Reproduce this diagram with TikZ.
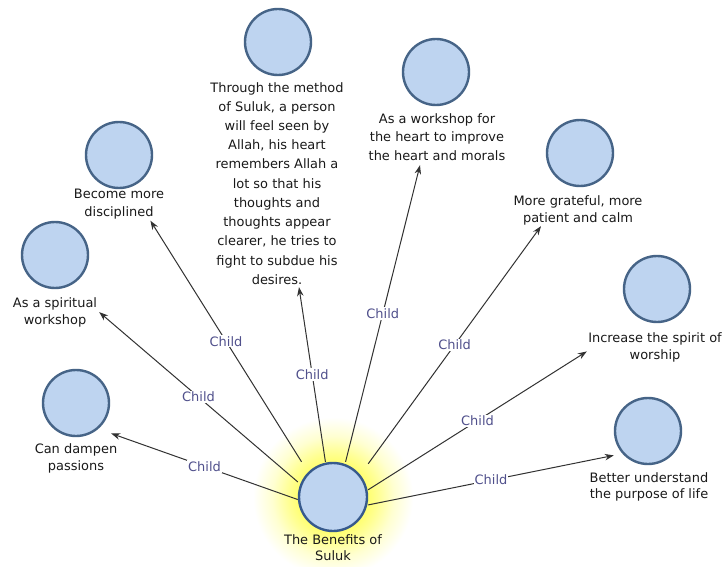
\documentclass[tikz,border=0pt]{standalone}
\usepackage{fontspec}
\setmainfont{DejaVu Sans}
\usetikzlibrary{arrows.meta}
\definecolor{circfill}{RGB}{190,212,240}
\definecolor{circdraw}{RGB}{70,100,135}
\definecolor{edgecol}{RGB}{50,50,50}
\definecolor{labcol}{RGB}{80,80,140}
\pgfdeclareradialshading{glowshade}{\pgfpoint{0bp}{0bp}}{color(0bp)=(yellow!55!white); color(11bp)=(yellow!55!white); color(14bp)=(yellow!42!white); color(19bp)=(yellow!18!white); color(25bp)=(white); color(50bp)=(white)}
\begin{document}
\begin{tikzpicture}[x=1bp,y=-1bp,
  bubble/.style={circle, fill=circfill, draw=circdraw, line width=2.4bp, minimum size=66bp, inner sep=0},
  caption/.style={anchor=north, align=center, inner sep=0, font=\fontsize{13}{18.5}\selectfont, text=black!90},
  hitbox/.style={rectangle, inner sep=0, draw=none},
  link/.style={draw=edgecol, line width=1bp, -{Stealth[length=9bp,width=6.5bp]}},
  childlab/.style={fill=white, inner sep=1bp, text=labcol, font=\fontsize{13}{15}\selectfont}
]
\useasboundingbox (0,0) rectangle (724,567);
\fill[white] (0,0) rectangle (724,567);
\shade[shading=glowshade] (333,497) circle[radius=80bp];

% hit boxes (invisible extents of each node: bubble plus caption)
\node[hitbox, minimum width=70bp, minimum height=100bp] (h0) at (333,512) {};
\node[hitbox, minimum width=70bp, minimum height=104bp] (h1) at (76,421) {};
\node[hitbox, minimum width=88bp, minimum height=106bp] (h2) at (55,274.5) {};
\node[hitbox, minimum width=80bp, minimum height=100bp] (h3) at (119,170.5) {};
\node[hitbox, minimum width=140bp, minimum height=278bp] (h4) at (278,148) {};
\node[hitbox, minimum width=140bp, minimum height=128bp] (h5) at (436,101) {};
\node[hitbox, minimum width=130bp, minimum height=107bp] (h6) at (580,172.5) {};
\node[hitbox, minimum width=136bp, minimum height=108bp] (h7) at (655,308.5) {};
\node[hitbox, minimum width=68bp, minimum height=104bp] (h8) at (648,448.5) {};

% connectors
\draw[link] (h0) -- node[childlab] (e1) {Child} (h1);
\draw[link] (h0) -- node[childlab] (e2) {Child} (h2);
\draw[link] (h0) -- node[childlab] (e3) {Child} (h3);
\draw[link] (h0) -- node[childlab] (e4) {Child} (h4);
\draw[link] (h0) -- node[childlab] (e5) {Child} (h5);
\draw[link] (h0) -- node[childlab] (e6) {Child} (h6);
\draw[link] (h0) -- node[childlab] (e7) {Child} (h7);
\draw[link] (h0) -- node[childlab] (e8) {Child} (h8);

% bubbles
\node[bubble, minimum size=68bp, draw={rgb,255:red,55;green,90;blue,140}] (c0) at (333,497) {};
\node[bubble] (c1) at (76,403) {};
\node[bubble] (c2) at (55,255) {};
\node[bubble] (c3) at (119,155) {};
\node[bubble] (c4) at (278,42) {};
\node[bubble] (c5) at (436,72) {};
\node[bubble] (c6) at (580,153) {};
\node[bubble] (c7) at (657,289) {};
\node[bubble] (c8) at (648,431) {};

% captions
\node[caption, font=\fontsize{13}{17}\selectfont] (t0) at (333,534) {The Benefits of\\Suluk};
\node[caption, font=\fontsize{13}{18}\selectfont] (t1) at (76,443) {Can dampen\\passions};
\node[caption, font=\fontsize{13}{18}\selectfont] (t2) at (55,297) {As a spiritual\\workshop};
\node[caption, font=\fontsize{13}{18}\selectfont] (t3) at (119,189) {Become more\\disciplined};
\node[caption, font=\fontsize{13}{19.3}\selectfont] (t4) at (277,82) {Through the method\\of Suluk, a person\\will feel seen by\\Allah, his heart\\remembers Allah a\\lot so that his\\thoughts and\\thoughts appear\\clearer, he tries to\\fight to subdue his\\desires.};
\node[caption, font=\fontsize{13}{19}\selectfont] (t5) at (437,113) {As a workshop for\\the heart to improve\\the heart and morals};
\node[caption, font=\fontsize{13}{18}\selectfont] (t6) at (578,195) {More grateful, more\\patient and calm};
\node[caption, font=\fontsize{13}{18}\selectfont] (t7) at (655,332) {Increase the spirit of\\worship};
\node[caption, font=\fontsize{13}{16.5}\selectfont] (t8) at (649,472) {Better understand\\the purpose of life};
\end{tikzpicture}
\end{document}
